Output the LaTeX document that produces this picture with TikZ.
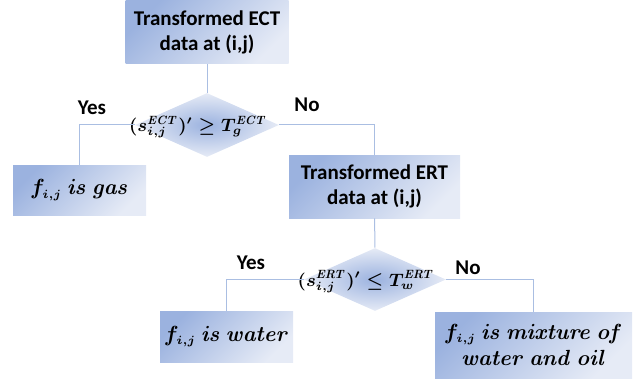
\documentclass[tikz,border=0pt]{standalone}
\usepackage[no-math]{fontspec}
\setmainfont{Carlito}
\usetikzlibrary{shapes.geometric}
\DeclareMathSizes{10.5}{10.5}{6.2}{5}
\DeclareMathSizes{9.2}{9.2}{5.6}{4.5}
\definecolor{boxdark}{RGB}{155,178,223}
\definecolor{boxlight}{RGB}{230,235,246}
\definecolor{linkblue}{RGB}{170,190,226}
\tikzset{
  stepbox/.style={rectangle, top color=boxdark, bottom color=boxlight, shading angle=45,
    align=center, font=\fontsize{10.5}{12.8}\selectfont\bfseries, inner sep=0pt},
  resultbox/.style={stepbox, font=\fontsize{10.5}{13}\selectfont\boldmath},
  decision/.style={diamond, inner color=boxdark, outer color=boxlight, inner sep=0pt},
  testtext/.style={font=\fontsize{9.2}{11}\selectfont\boldmath, xshift=-4.5pt, yshift=-1pt},
  link/.style={draw=linkblue, line width=0.5pt},
  answer/.style={font=\fontsize{10.5}{12}\selectfont\bfseries}
}
\begin{document}
\begin{tikzpicture}[x=0.5pt,y=-0.5pt]
                \useasboundingbox (0,0) rectangle (640,379) ;
                % boxes
                \node [stepbox, minimum width=81.5pt, minimum height=31.5pt] (ect) at (207,32.5) {Transformed ECT\\data at (i,j)} ;
                \node [resultbox, minimum width=66.5pt, minimum height=25pt] (gas) at (79.5,190) {$f_{i,j}\ \mathit{is\ gas}$} ;
                \node [stepbox, minimum width=85.5pt, minimum height=31.5pt] (ert) at (374.5,186.5) {Transformed ERT\\data at (i,j)} ;
                \node [resultbox, minimum width=66.5pt, minimum height=25.5pt] (water) at (226.5,336.5) {$f_{i,j}\ \mathit{is\ water}$} ;
                \node [resultbox, minimum width=98.5pt, minimum height=33pt] (mix) at (533.5,345) {$f_{i,j}\ \mathit{is\ mixture\ of}$\\$\mathit{water\ and\ oil}$} ;
                % tests
                \node [decision, minimum width=72pt, minimum height=32pt,
                  label={[testtext]center:$(s^{\mathit{ECT}}_{i,j})'\geq T^{\mathit{ECT}}_{g}$}] (testect) at (207,125) {} ;
                \node [decision, minimum width=71pt, minimum height=31.5pt,
                  label={[testtext]center:$(s^{\mathit{ERT}}_{i,j})'\leq T^{\mathit{ERT}}_{w}$}] (testert) at (375,279.5) {} ;
                % links
                \draw [link] (ect) -- (testect) ;
                \draw [link] (testect.west) -| (gas.north) ;
                \draw [link] (testect.east) -| (ert.north) ;
                \draw [link] (ert) -- (testert) ;
                \draw [link] (testert.west) -| (water.north) ;
                \draw [link] (testert.east) -| (mix.north) ;
                % answers
                \node [answer] (yesect) at (92,108) {Yes} ;
                \node [answer] (noect) at (307,105) {No} ;
                \node [answer] (yesert) at (251,263) {Yes} ;
                \node [answer] (noert) at (468,268) {No} ;
            \end{tikzpicture}
\end{document}
